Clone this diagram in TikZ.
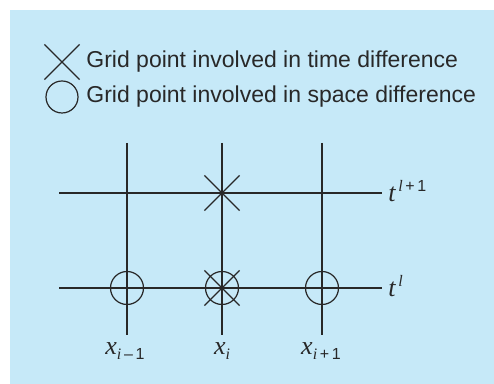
\documentclass[tikz,border=0pt]{standalone}
\usepackage{fontspec}
\setmainfont{Liberation Sans}
\newfontfamily\timesfont{Liberation Serif}
\usetikzlibrary{shapes.misc}
\definecolor{panelblue}{RGB}{198,233,248}
\definecolor{inkgray}{RGB}{40,40,40}
\newcommand{\mvar}[1]{{\timesfont\itshape #1}}
% base letter, raise, small script
\newcommand{\gridlbl}[3]{{\fontsize{13}{15}\selectfont\mvar{#1}}\raisebox{#2}{\fontsize{8}{9}\selectfont #3}}

\begin{document}
\begin{tikzpicture}[
  x=0.5pt, y=-0.5pt,
  gridline/.style={draw=inkgray, line width=0.75pt},
  spacept/.style={circle, draw=inkgray, line width=0.6pt, minimum size=16.5pt, inner sep=0pt},
  timept/.style={cross out, draw=inkgray, line width=0.6pt, minimum size=17pt, inner sep=0pt},
  legendtxt/.style={anchor=west, inner sep=0pt, text=inkgray, font=\fontsize{11.5}{13}\selectfont},
  axlabel/.style={inner sep=0pt, text=inkgray}
]
\useasboundingbox (0,0) rectangle (494,384);
\fill[panelblue] (10,10) rectangle (494,384);

% legend
\node[timept] (keycross) at (62,62) {};
\node[legendtxt] (keytime) at (86,62) {Grid point involved in time difference};
\node[spacept, minimum size=16pt] (keycircle) at (62,97) {};
\node[legendtxt] (keyspace) at (86,97) {Grid point involved in space difference};

% grid lines
\foreach \n/\x in {im/127, i/222, ip/322} {
  \coordinate (top\n) at (\x,143);
  \coordinate (bot\n) at (\x,335);
  \draw[gridline] (top\n) -- (bot\n);
}
\coordinate (newL) at (59,193);
\coordinate (newR) at (382,193);
\coordinate (oldL) at (59,288);
\coordinate (oldR) at (382,288);
\draw[gridline] (newL) -- (newR);
\draw[gridline] (oldL) -- (oldR);

% grid points
\node[timept] (pnew) at (222,193) {};
\node[spacept] (pim) at (127,288) {};
\node[spacept] (pi) at (222,288) {};
\node[timept] (pix) at (222,288) {};
\node[spacept] (pip) at (322,288) {};

% labels
\node[axlabel, anchor=base west] (tnew) at (388,202) {\gridlbl{t}{5pt}{\,\mvar{l}\,+\,1}};
\node[axlabel, anchor=base west] (told) at (388,297) {\gridlbl{t}{5pt}{\,\mvar{l}}};
\node[axlabel, anchor=base] (xim) at (125,355) {\gridlbl{x}{-2.5pt}{\mvar{i}\,–\,1}};
\node[axlabel, anchor=base] (xi) at (222,355) {\gridlbl{x}{-2.5pt}{\mvar{i}}};
\node[axlabel, anchor=base] (xip) at (321,355) {\gridlbl{x}{-2.5pt}{\mvar{i}\,+\,1}};
\end{tikzpicture}
\end{document}
